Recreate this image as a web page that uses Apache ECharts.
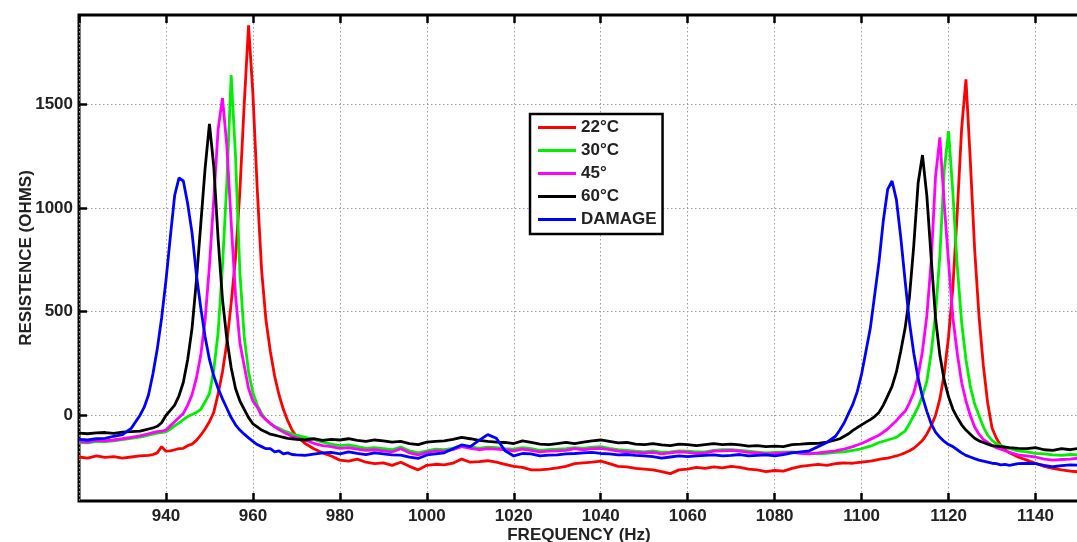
<!DOCTYPE html>
<html><head><meta charset="utf-8">
<script src="https://cdn.jsdelivr.net/npm/echarts@6/dist/echarts.min.js"></script>
<style>html,body{margin:0;padding:0;background:#fff;}#c{width:1077px;height:542px;}</style>
</head><body><div id="c"></div>
<script>
// Frequencies (Hz), shared by all series
const freq = [
920,922,924,926,928,930,932,934,
935,936,937,938,939,940,941,942,943,944,945,946,947,948,949,950,951,952,953,954,955,956,957,958,959,960,961,962,963,964,965,966,967,968,969,970,
972,974,976,978,980,982,984,986,988,990,992,994,996,998,1000,1002,1004,1006,1008,1010,1012,1014,1016,1018,1020,1022,1024,1026,1028,1030,1032,1034,1036,1038,1040,1042,1044,1046,1048,1050,1052,1054,1056,1058,1060,1062,1064,1066,1068,1070,1072,1074,1076,1078,1080,1082,1084,1086,1088,1090,1092,1094,
1095,1096,1097,1098,1099,1100,1101,1102,1103,1104,1105,1106,1107,1108,1109,1110,1111,1112,1113,1114,1115,1116,1117,1118,1119,1120,1121,1122,1123,1124,1125,1126,1127,1128,1129,1130,1131,1132,1133,1134,
1136,1138,1140,1142,1144,1146,1148,1150];

const seriesNames = ['22°C','30°C','45°','60°C','DAMAGE'];
const yTicks = [0,500,1000,1500];

const r22 = [
-200,-205,-195,-202,-198,-205,-200,-195,
-193,-192,-188,-180,-150,-172,-170,-165,-160,-158,-145,-138,-120,-95,-65,-30,15,105,210,350,540,760,1080,1500,1880,1550,1090,700,460,310,190,100,30,-25,-70,-100,
-135,-160,-180,-195,-215,-220,-210,-225,-232,-228,-240,-225,-245,-262,-240,-235,-238,-230,-210,-225,-222,-218,-225,-235,-245,-250,-262,-262,-258,-252,-245,-232,-228,-225,-220,-232,-245,-248,-255,-258,-262,-270,-280,-262,-258,-250,-255,-248,-252,-245,-250,-258,-262,-270,-265,-268,-255,-245,-240,-235,-240,-232,
-230,-228,-229,-230,-227,-225,-222,-220,-216,-212,-208,-205,-200,-195,-188,-180,-170,-158,-140,-120,-90,-50,0,80,200,380,620,980,1380,1620,1230,800,480,240,60,-60,-110,-145,-165,-180,
-200,-215,-230,-245,-255,-262,-268,-272];

const g30 = [
-130,-132,-125,-126,-122,-116,-110,-104,
-100,-95,-90,-85,-82,-78,-65,-50,-35,-20,-5,5,15,30,65,105,220,400,720,1120,1640,1250,690,380,210,110,50,10,-20,-40,-52,-62,-72,-80,-88,-95,
-105,-115,-128,-138,-145,-142,-150,-158,-155,-160,-165,-152,-170,-180,-170,-162,-165,-158,-145,-150,-158,-152,-155,-160,-162,-155,-160,-168,-165,-162,-160,-155,-158,-152,-150,-158,-165,-168,-172,-175,-170,-178,-175,-170,-172,-175,-175,-168,-165,-165,-168,-172,-176,-180,-178,-176,-175,-180,-182,-185,-182,-178,
-176,-175,-172,-168,-164,-160,-154,-148,-140,-130,-124,-118,-112,-105,-90,-75,-40,0,40,95,165,300,490,770,1180,1370,1070,720,450,270,140,55,0,-55,-95,-120,-135,-145,-152,-160,
-170,-175,-182,-185,-190,-192,-188,-190];

const m45 = [
-125,-128,-120,-122,-118,-112,-105,-98,
-93,-88,-83,-78,-75,-70,-50,-30,-10,10,50,100,180,290,460,720,1040,1380,1530,1300,930,580,350,240,130,70,40,0,-20,-38,-55,-68,-80,-90,-100,-108,
-118,-134,-145,-150,-158,-155,-162,-168,-165,-170,-175,-160,-180,-190,-178,-170,-172,-165,-150,-158,-165,-160,-162,-165,-170,-162,-168,-175,-172,-170,-168,-160,-165,-160,-158,-165,-172,-175,-178,-180,-178,-185,-180,-175,-178,-182,-180,-172,-170,-168,-172,-178,-180,-185,-183,-180,-178,-182,-185,-180,-175,-170,
-166,-162,-156,-150,-142,-135,-125,-115,-105,-95,-80,-65,-45,-25,0,20,60,110,190,310,480,740,1150,1340,1020,740,470,300,160,70,0,-55,-90,-115,-130,-145,-155,-162,-170,-178,
-190,-195,-200,-210,-215,-212,-210,-205];

const k60 = [
-85,-88,-84,-82,-86,-80,-78,-75,
-70,-65,-60,-52,-35,0,25,50,95,160,270,420,650,920,1190,1405,1200,850,560,370,230,130,70,30,-10,-40,-55,-70,-80,-90,-95,-100,-105,-110,-112,-115,
-118,-112,-120,-115,-118,-112,-120,-125,-118,-122,-128,-125,-135,-140,-128,-125,-122,-115,-105,-112,-120,-125,-128,-130,-135,-122,-130,-138,-140,-135,-130,-135,-128,-122,-118,-125,-132,-130,-138,-140,-135,-142,-145,-138,-140,-145,-140,-135,-140,-138,-142,-148,-145,-150,-148,-150,-140,-138,-135,-134,-128,-118,
-112,-100,-88,-72,-58,-45,-32,-20,-5,15,50,95,140,210,310,420,570,820,1120,1255,1060,760,470,290,170,90,30,-10,-45,-70,-90,-110,-122,-130,-138,-145,-148,-150,-152,-155,
-158,-160,-155,-165,-168,-160,-165,-158];

const damage = [
-115,-118,-112,-110,-100,-92,-62,0,
40,100,200,320,470,650,860,1060,1145,1130,1020,880,680,520,380,270,190,130,80,35,-10,-45,-70,-90,-108,-125,-140,-150,-160,-160,-175,-170,-185,-180,-188,-190,
-192,-186,-180,-178,-185,-175,-182,-188,-180,-185,-190,-191,-200,-207,-190,-185,-180,-160,-142,-150,-120,-92,-110,-170,-195,-183,-185,-195,-191,-190,-185,-183,-180,-178,-183,-185,-190,-188,-192,-195,-198,-205,-200,-195,-198,-195,-192,-190,-195,-192,-188,-195,-192,-190,-195,-188,-180,-175,-170,-150,-130,-100,
-70,-35,10,55,115,200,310,420,580,740,940,1090,1130,1040,860,650,450,300,180,90,20,-40,-80,-105,-125,-140,-150,-165,-180,-192,-200,-208,-215,-220,-225,-230,-232,-238,-236,-240,
-232,-230,-232,-240,-247,-242,-238,-240];

const allValues = [r22, g30, m45, k60, damage];
const colors = ['#ff0000', '#00ee00', '#ff00ff', '#000000', '#0000ff'];
const FONT = '"Liberation Sans", Arial, sans-serif';

const chart = echarts.init(document.getElementById('c'), null, {renderer: 'canvas'});
const tickStyle = {inside: true, length: 8, lineStyle: {color: '#000', width: 2.5}};
const gridLine = {show: true, lineStyle: {type: [1.5, 2.5], color: '#9a9a9a', width: 1}};
const labelFont = {fontSize: 17, fontWeight: 'bold', color: '#222', fontFamily: FONT};
const plain = v => String(v);

chart.setOption({
  animation: false,
  backgroundColor: '#fff',
  grid: {left: 79, right: -2, top: 15, bottom: 41, show: true, borderColor: '#000', borderWidth: 3,
         backgroundColor: 'transparent', outerBoundsMode: 'none', containLabel: false},
  legend: {
    orient: 'vertical', left: 530, top: 114, data: seriesNames, icon: 'rect',
    itemWidth: 38, itemHeight: 3, itemGap: 6, padding: [5, 6, 6, 8],
    borderColor: '#000', borderWidth: 2.5, backgroundColor: '#fff', selectedMode: false,
    textStyle: Object.assign({lineHeight: 17}, labelFont)
  },
  xAxis: [{
    type: 'value', min: 920, max: 1150, interval: 20, position: 'bottom',
    name: 'FREQUENCY (Hz)', nameLocation: 'middle', nameGap: 26, nameMoveOverlap: false,
    nameTextStyle: labelFont,
    axisLine: {show: false, onZero: false}, axisTick: tickStyle,
    axisLabel: Object.assign({showMinLabel: false, showMaxLabel: false, margin: 7, formatter: plain}, labelFont),
    splitLine: gridLine
  }, {
    type: 'value', min: 920, max: 1150, interval: 20, position: 'top',
    axisLine: {show: false, onZero: false}, axisTick: tickStyle, axisLabel: {show: false}, splitLine: {show: false}
  }],
  yAxis: {
    type: 'value', min: -412, max: 1930,
    name: 'RESISTENCE (OHMS)', nameLocation: 'middle', nameGap: 44, nameRotate: 90, nameMoveOverlap: false,
    nameTextStyle: labelFont,
    axisLine: {show: false, onZero: false},
    axisTick: Object.assign({customValues: yTicks}, tickStyle),
    axisLabel: Object.assign({customValues: yTicks, margin: 6, formatter: plain}, labelFont),
    splitLine: gridLine
  },
  series: seriesNames.map((name, i) => ({
    name: name, type: 'line', xAxisIndex: 0, symbol: 'none', showSymbol: false,
    lineStyle: {color: colors[i], width: 2.8}, itemStyle: {color: colors[i]},
    data: freq.map((f, j) => [f, allValues[i][j]])
  }))
});
</script></body></html>
